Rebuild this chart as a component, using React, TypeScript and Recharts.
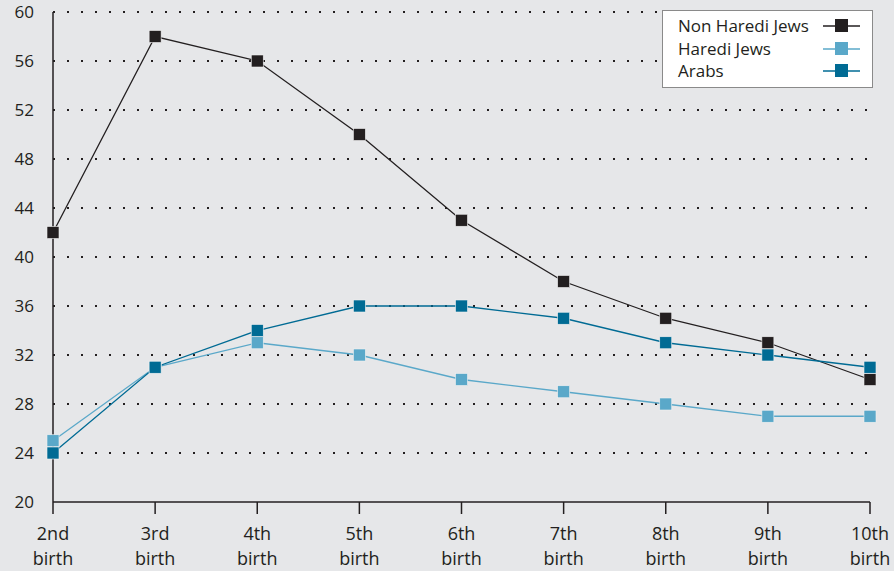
import React from "react";
import { LineChart, Line, XAxis, YAxis, CartesianGrid, Legend } from "recharts";

const categories = ["2nd", "3rd", "4th", "5th", "6th", "7th", "8th", "9th", "10th"];
const secondLine = "birth";
const nonHarediJews = [42, 58, 56, 50, 43, 38, 35, 33, 30];
const harediJews = [25, 31, 33, 32, 30, 29, 28, 27, 27];
const arabs = [24, 31, 34, 36, 36, 35, 33, 32, 31];
const yTicks = [20, 24, 28, 32, 36, 40, 44, 48, 52, 56, 60];

const seriesInfo = [
  { key: "nonHaredi", name: "Non Haredi Jews", color: "#231f20" },
  { key: "haredi", name: "Haredi Jews", color: "#5aa8c9" },
  { key: "arabs", name: "Arabs", color: "#006b94" },
];

const data = categories.map((c, i) => ({
  cat: c,
  nonHaredi: nonHarediJews[i],
  haredi: harediJews[i],
  arabs: arabs[i],
}));

const FONT = "'Open Sans', 'DejaVu Sans', sans-serif";
const BG = "#e6e7e9";

const squareDot = (color: string) => (props: any) => {
  const { cx, cy, index } = props;
  if (cx == null || cy == null) return <g key={index} />;
  return (
    <rect
      key={index}
      x={cx - 6}
      y={cy - 6}
      width={12}
      height={12}
      fill={color}
      stroke="#f2f2f2"
      strokeWidth={0.6}
    />
  );
};

const XTick = (props: any) => {
  const { x, y, payload } = props;
  return (
    <g>
      <text x={x} y={y} textAnchor="middle" fill="#231f20" fontSize={18} fontFamily={FONT}>
        <tspan x={x} dy={24}>{payload.value}</tspan>
        <tspan x={x} dy={25}>{secondLine}</tspan>
      </text>
    </g>
  );
};

const LegendBox = () => (
  <div
    style={{
      width: 211,
      height: 78,
      boxSizing: "border-box",
      background: "#ffffff",
      border: "1px solid #8a8a8a",
      fontFamily: FONT,
      fontSize: 17,
      color: "#231f20",
      paddingTop: 4,
    }}
  >
    {seriesInfo.map((s) => (
      <div key={s.key} style={{ display: "flex", alignItems: "center", height: 22.5, position: "relative" }}>
        <span style={{ position: "absolute", left: 15, lineHeight: "22px" }}>{s.name}</span>
        <svg width={40} height={16} style={{ position: "absolute", left: 159 }}>
          <line x1={1} y1={8} x2={38} y2={8} stroke={s.color} strokeWidth={1.3} />
          <rect x={13} y={1} width={13} height={13} fill={s.color} />
        </svg>
      </div>
    ))}
  </div>
);

export default function App() {
  return (
    <div style={{ position: "fixed", left: 0, top: 0, width: 894, height: 571, background: BG }}>
      <LineChart
        width={894}
        height={571}
        data={data}
        margin={{ top: 12, right: 24, bottom: 9, left: 8 }}
      >
        <CartesianGrid
          vertical={false}
          horizontalValues={[24, 28, 32, 36, 40, 44, 48, 52, 56, 60]}
          stroke="#231f20"
          strokeWidth={2}
          strokeDasharray="2 12"
        />
        <XAxis
          dataKey="cat"
          interval={0}
          tickSize={12}
          tickMargin={2}
          height={60}
          axisLine={{ stroke: "#231f20", strokeWidth: 1.5 }}
          tickLine={{ stroke: "#231f20", strokeWidth: 1.5 }}
          tick={<XTick />}
        />
        <YAxis
          type="number"
          domain={[20, 60]}
          ticks={yTicks}
          interval={0}
          width={45}
          tickSize={8}
          tickMargin={11}
          tickLine={false}
          axisLine={{ stroke: "#231f20", strokeWidth: 1.5 }}
          tick={{ fill: "#231f20", fontSize: 17, fontFamily: FONT }}
        />
        <Legend
          layout="horizontal"
          verticalAlign="middle"
          align="center"
          content={<LegendBox />}
          wrapperStyle={{ position: "absolute", top: 10, left: 662, right: "auto", bottom: "auto", width: 211, height: 78 }}
        />
        {seriesInfo.map((s) => (
          <Line
            key={s.key}
            type="linear"
            dataKey={s.key}
            name={s.name}
            stroke={s.color}
            strokeWidth={1.3}
            dot={squareDot(s.color)}
            activeDot={false}
            isAnimationActive={false}
          />
        ))}
      </LineChart>
    </div>
  );
}
